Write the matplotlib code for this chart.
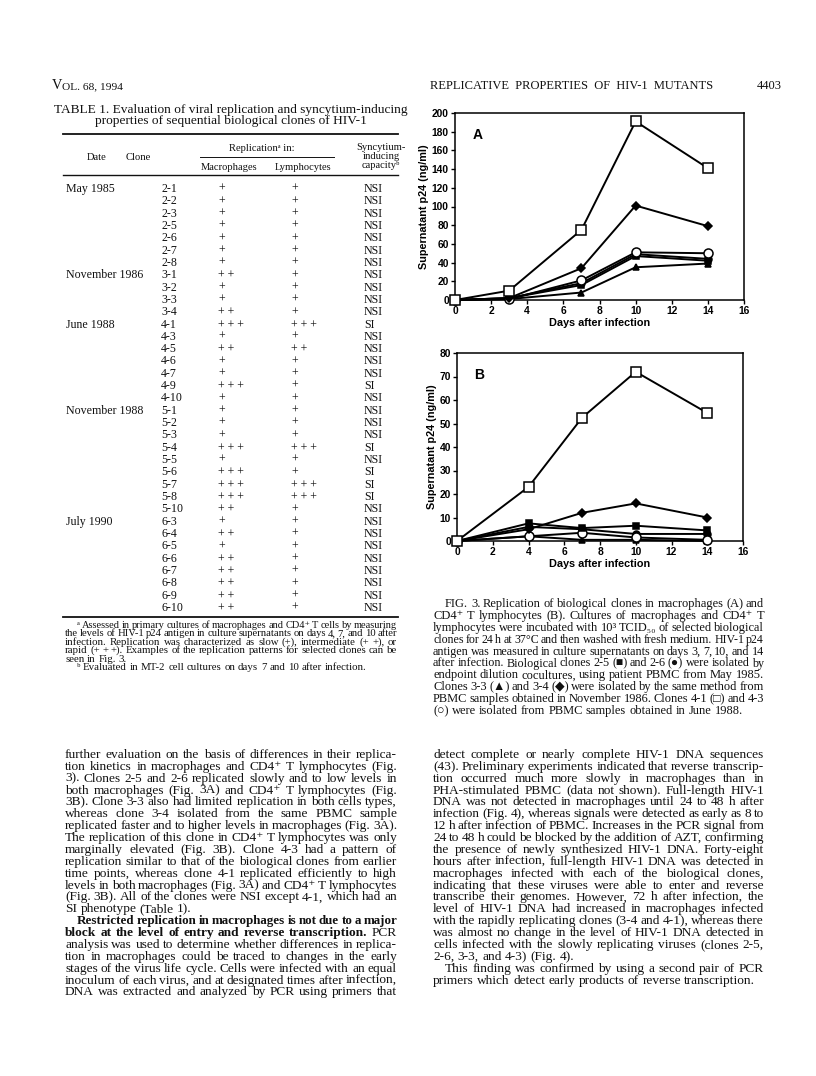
import matplotlib
matplotlib.use("Agg")
import matplotlib.pyplot as plt

# ---- data read from the page ----
days_a = [0, 3, 7, 10, 14]
a_41 = [0, 10, 75, 191, 141]
a_34 = [0, 2, 34, 101, 79]
a_43 = [0, 1, 21, 51, 50]
a_26 = [0, 2, 18, 49, 44]
a_25 = [0, 2, 16, 47, 42]
a_33 = [0, 1, 8, 35, 39]

days_b = [0, 4, 7, 10, 14]
b_41 = [0, 23, 52.5, 72, 54.5]
b_34 = [0, 5, 12, 16, 10]
b_25 = [0, 7.5, 5.5, 6.5, 4.5]
b_26 = [0, 6, 5, 3, 3]
b_43 = [0, 2, 3.5, 1.5, 0.5]
b_33 = [0, 2, 0.5, 0.5, 0]

date_groups = [("May 1985", 7), ("November 1986", 4), ("June 1988", 7),
               ("November 1988", 9), ("July 1990", 8)]
clones = ["2-1", "2-2", "2-3", "2-5", "2-6", "2-7", "2-8",
          "3-1", "3-2", "3-3", "3-4",
          "4-1", "4-3", "4-5", "4-6", "4-7", "4-9", "4-10",
          "5-1", "5-2", "5-3", "5-4", "5-5", "5-6", "5-7", "5-8", "5-10",
          "6-3", "6-4", "6-5", "6-6", "6-7", "6-8", "6-9", "6-10"]
macro = [1, 1, 1, 1, 1, 1, 1,
         2, 1, 1, 2,
         3, 1, 2, 1, 1, 3, 1,
         1, 1, 1, 3, 1, 3, 3, 3, 2,
         1, 2, 1, 2, 2, 2, 2, 2]
lympho = [1, 1, 1, 1, 1, 1, 1,
          1, 1, 1, 1,
          3, 1, 2, 1, 1, 1, 1,
          1, 1, 1, 3, 1, 1, 3, 3, 1,
          1, 1, 1, 1, 1, 1, 1, 1]
si_clones = ["4-1", "4-9", "5-4", "5-6", "5-7", "5-8"]

left_text = [
    "further evaluation on the basis of differences in their replica-",
    "tion kinetics in macrophages and CD4\u207a T lymphocytes (Fig.",
    "3). Clones 2-5 and 2-6 replicated slowly and to low levels in",
    "both macrophages (Fig. 3A) and CD4\u207a T lymphocytes (Fig.",
    "3B). Clone 3-3 also had limited replication in both cells types,",
    "whereas clone 3-4 isolated from the same PBMC sample",
    "replicated faster and to higher levels in macrophages (Fig. 3A).",
    "The replication of this clone in CD4\u207a T lymphocytes was only",
    "marginally elevated (Fig. 3B). Clone 4-3 had a pattern of",
    "replication similar to that of the biological clones from earlier",
    "time points, whereas clone 4-1 replicated efficiently to high",
    "levels in both macrophages (Fig. 3A) and CD4\u207a T lymphocytes",
    "(Fig. 3B). All of the clones were NSI except 4-1, which had an",
    "SI phenotype (Table 1).|",
    ">Restricted replication in macrophages is not due to a major",
    "block at the level of entry and reverse transcription. PCR",
    "analysis was used to determine whether differences in replica-",
    "tion in macrophages could be traced to changes in the early",
    "stages of the virus life cycle. Cells were infected with an equal",
    "inoculum of each virus, and at designated times after infection,",
    "DNA was extracted and analyzed by PCR using primers that",
]
left_bold = {14: 99, 15: 9}

right_text = [
    "detect complete or nearly complete HIV-1 DNA sequences",
    "(43). Preliminary experiments indicated that reverse transcrip-",
    "tion occurred much more slowly in macrophages than in",
    "PHA-stimulated PBMC (data not shown). Full-length HIV-1",
    "DNA was not detected in macrophages until 24 to 48 h after",
    "infection (Fig. 4), whereas signals were detected as early as 8 to",
    "12 h after infection of PBMC. Increases in the PCR signal from",
    "24 to 48 h could be blocked by the addition of AZT, confirming",
    "the presence of newly synthesized HIV-1 DNA. Forty-eight",
    "hours after infection, full-length HIV-1 DNA was detected in",
    "macrophages infected with each of the biological clones,",
    "indicating that these viruses were able to enter and reverse",
    "transcribe their genomes. However, 72 h after infection, the",
    "level of HIV-1 DNA had increased in macrophages infected",
    "with the rapidly replicating clones (3-4 and 4-1), whereas there",
    "was almost no change in the level of HIV-1 DNA detected in",
    "cells infected with the slowly replicating viruses (clones 2-5,",
    "2-6, 3-3, and 4-3) (Fig. 4).|",
    ">This finding was confirmed by using a second pair of PCR",
    "primers which detect early products of reverse transcription.|",
]

caption = [
    ">FIG. 3. Replication of biological clones in macrophages (A) and",
    "CD4\u207a T lymphocytes (B). Cultures of macrophages and CD4\u207a T",
    "lymphocytes were incubated with 10\u00b3 TCID\u2085\u2080 of selected biological",
    "clones for 24 h at 37\u00b0C and then washed with fresh medium. HIV-1 p24",
    "antigen was measured in culture supernatants on days 3, 7, 10, and 14",
    "after infection. Biological clones 2-5 (\u25a0) and 2-6 (\u25cf) were isolated by",
    "endpoint dilution cocultures, using patient PBMC from May 1985.",
    "Clones 3-3 (\u25b2) and 3-4 (\u25c6) were isolated by the same method from",
    "PBMC samples obtained in November 1986. Clones 4-1 (\u25a1) and 4-3",
    "(\u25cb) were isolated from PBMC samples obtained in June 1988.|",
]

footnotes = [
    ">\u1d43 Assessed in primary cultures of macrophages and CD4\u207a T cells by measuring",
    "the levels of HIV-1 p24 antigen in culture supernatants on days 4, 7, and 10 after",
    "infection. Replication was characterized as slow (+), intermediate (+ +), or",
    "rapid (+ + +). Examples of the replication patterns for selected clones can be",
    "seen in Fig. 3.|",
    ">\u1d47 Evaluated in MT-2 cell cultures on days 7 and 10 after infection.|",
]

SERIF = ["Liberation Serif", "DejaVu Serif", "DejaVu Sans"]
SANS = ["Liberation Sans", "DejaVu Sans"]
INK = "#111111"

fig = plt.figure(figsize=(8.16, 10.76), dpi=100)
page = fig.add_axes([0, 0, 1, 1])
page.set_xlim(0, 816)
page.set_ylim(1076, 0)
page.axis("off")
renderer = fig.canvas.get_renderer()

_cache = {}
def width(s, size, weight="normal"):
    key = (s, round(size, 2), weight)
    if key not in _cache:
        t = page.text(0, 0, s, fontsize=size, fontweight=weight, family=SERIF)
        _cache[key] = t.get_window_extent(renderer).width
        t.remove()
    return _cache[key]

def put(x, y, s, size, weight="normal", ha="left"):
    page.text(x, y, s, fontsize=size, fontweight=weight, family=SERIF,
              ha=ha, va="baseline", color=INK)

def paragraph(lines, x0, x1, y0, lead, size, indent=12, bold=None):
    bold = bold or {}
    for i, raw in enumerate(lines):
        words = raw.strip(">|").split(" ")
        last = raw.endswith("|")
        ind = indent if raw.startswith(">") else 0
        nb = bold.get(i, 0)
        wts = ["bold" if k < nb else "normal" for k in range(len(words))]
        s = size
        # shrink this line a little if it cannot fit with sane spaces
        while s > 6:
            need = sum(width(w, s, wt) for w, wt in zip(words, wts))
            need += (len(words) - 1) * s * 0.24
            if need <= x1 - x0 - ind:
                break
            s -= 0.05
        ws = [width(w, s, wt) for w, wt in zip(words, wts)]
        space = width("a a", s) - 2 * width("a", s)
        if len(words) == 1:
            gap = space
        else:
            gap = (x1 - x0 - ind - sum(ws)) / (len(words) - 1)
            if last:
                gap = min(gap, space)
        x = x0 + ind
        y = y0 + i * lead
        for w, wt, wd in zip(words, wts, ws):
            put(x, y, w, s, wt)
            x += wd + gap

# running heads
put(52, 89, "V", 10.4)
put(52 + width("V", 10.4), 89, "OL. 68, 1994", 8.2)
put(430, 89, "REPLICATIVE  PROPERTIES  OF  HIV-1  MUTANTS", 9.0)
put(782, 89, "4403", 9.0, ha="right")

# table
put(231, 113, "TABLE 1. Evaluation of viral replication and syncytium-inducing", 9.6, ha="center")
put(231, 124, "properties of sequential biological clones of HIV-1", 9.6, ha="center")
for yy, lw in [(134, 1.3), (175, 1.0), (617, 1.3)]:
    page.plot([63, 398], [yy, yy], color=INK, lw=lw)
page.plot([200, 334], [157, 157], color=INK, lw=0.7)
put(97, 160, "Date", 7.6, ha="center")
put(138, 160, "Clone", 7.6, ha="center")
put(262, 151, "Replication\u1d43 in:", 7.6, ha="center")
put(229, 170, "Macrophages", 7.6, ha="center")
put(303, 170, "Lymphocytes", 7.6, ha="center")
put(381, 150, "Syncytium-", 7.6, ha="center")
put(381, 159, "inducing", 7.6, ha="center")
put(381, 168, "capacity\u1d47", 7.6, ha="center")

row0, row_step = 192, 12.32
r = 0
for label, n in date_groups:
    put(66, row0 + r * row_step, label, 8.6)
    r += n
for i, c in enumerate(clones):
    y = row0 + i * row_step
    put(161, y, c, 8.6)
    put(218, y, " ".join(["+"] * macro[i]), 8.6)
    put(291, y, " ".join(["+"] * lympho[i]), 8.6)
    put(364, y, "SI" if c in si_clones else "NSI", 8.6)

paragraph(footnotes, 65, 397, 628, 8.4, 7.8, indent=12)
paragraph(left_text, 65, 397, 758, 11.87, 9.6, indent=12, bold=left_bold)
paragraph(caption, 433, 764, 607, 11.9, 9.0, indent=12)
paragraph(right_text, 433, 764, 758, 11.87, 9.6, indent=12)

# ---- charts ----
def style(ax, ymax, ystep):
    ax.set_xlim(0, 16)
    ax.set_ylim(0, ymax)
    ax.set_xticks(range(0, 17, 2))
    ax.set_yticks(range(0, ymax + 1, ystep))
    for sp in ax.spines.values():
        sp.set_linewidth(1.1)
    ax.tick_params(direction="out", length=3, width=1.0, pad=1.5, labelsize=7.4)
    for lab in ax.get_xticklabels() + ax.get_yticklabels():
        lab.set_fontweight("bold")
        lab.set_family(SANS)
    ax.set_xlabel("Days after infection", fontsize=7.8, fontweight="bold",
                  family=SANS, labelpad=1)
    ax.set_ylabel("Supernatant p24 (ng/ml)", fontsize=7.8, fontweight="bold",
                  family=SANS, labelpad=2)

def series(ax, x, y, marker, filled, ms):
    ax.plot(x, y, color="black", lw=1.4, marker=marker, ms=ms,
            mfc="black" if filled else "white", mec="black", mew=1.1,
            clip_on=False, zorder=3)

axA = fig.add_axes([455 / 816, 1 - 300 / 1076, 289 / 816, 187 / 1076])
series(axA, days_a, a_33, "^", True, 4.5)
series(axA, days_a, a_25, "s", True, 5)
series(axA, days_a, a_26, "o", True, 5)
series(axA, days_a, a_43, "o", False, 6.5)
series(axA, days_a, a_34, "D", True, 3.8)
series(axA, days_a, a_41, "s", False, 7)
style(axA, 200, 20)
axA.text(0.06, 0.86, "A", transform=axA.transAxes, fontsize=10,
         fontweight="bold", family=SANS)

axB = fig.add_axes([457 / 816, 1 - 541 / 1076, 286 / 816, 188 / 1076])
series(axB, days_b, b_33, "^", True, 4.5)
series(axB, days_b, b_26, "o", True, 5)
series(axB, days_b, b_43, "o", False, 6.5)
series(axB, days_b, b_25, "s", True, 5)
series(axB, days_b, b_34, "D", True, 3.8)
series(axB, days_b, b_41, "s", False, 7)
style(axB, 80, 10)
axB.text(0.06, 0.86, "B", transform=axB.transAxes, fontsize=10,
         fontweight="bold", family=SANS)

fig.savefig("out.png", dpi=100)
